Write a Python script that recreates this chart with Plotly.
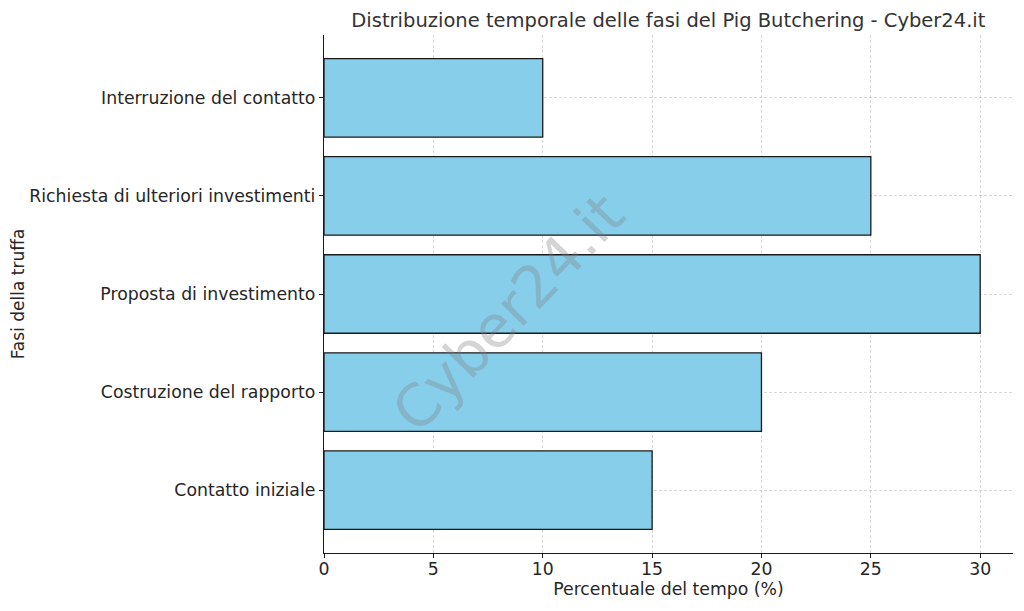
import plotly.graph_objects as go

categories = ["Contatto iniziale", "Costruzione del rapporto", "Proposta di investimento",
              "Richiesta di ulteriori investimenti", "Interruzione del contatto"]
values = [15, 20, 30, 25, 10]
x_ticks = [0, 5, 10, 15, 20, 25, 30]

FONT = "DejaVu Sans"
GRID = "rgba(190,190,190,0.6)"
fig = go.Figure()
fig.add_trace(go.Bar(
    y=categories, x=values, orientation="h", width=0.8,
    marker=dict(color="#87CEEB", line=dict(color="#1a1a1a", width=1.3)),
))
fig.update_layout(
    width=1016, height=603,
    margin=dict(l=316, r=11, t=27, b=58, autoexpand=False),
    plot_bgcolor="white", paper_bgcolor="white",
    showlegend=False,
    font=dict(family=FONT, size=17.3, color="#262626"),
    title=dict(text="Distribuzione temporale delle fasi del Pig Butchering - Cyber24.it",
               x=0.65, xanchor="center", y=0.979, yanchor="middle",
               font=dict(size=19.5, family=FONT, color="#333333")),
    bargap=0.2,
)
fig.update_xaxes(
    range=[0, 31.5], tickvals=x_ticks, showgrid=True,
    gridcolor=GRID, griddash="3px,2px", gridwidth=1,
    showline=True, linecolor="#1a1a1a", linewidth=1.3,
    ticks="outside", ticklen=4, tickcolor="#1a1a1a",
    ticklabelstandoff=-4,
    zeroline=False, layer="above traces", automargin=False,
    title=dict(text="Percentuale del tempo (%)", standoff=2, font=dict(size=17.3)),
)
fig.update_yaxes(
    range=[-0.64, 4.64], showgrid=True,
    gridcolor=GRID, griddash="3px,2px", gridwidth=1,
    showline=True, linecolor="#1a1a1a", linewidth=1.3,
    ticks="outside", ticklen=4, tickcolor="#1a1a1a",
    zeroline=False, layer="above traces", automargin=False,
    title=dict(text="Fasi della truffa", standoff=3, font=dict(size=17)),
)
fig.add_annotation(
    text="Cyber24.it", x=0.267, y=0.464, xref="paper", yref="paper",
    xanchor="center", yanchor="middle",
    showarrow=False, textangle=-46,
    font=dict(size=58, family=FONT, color="rgba(128,128,128,0.33)"),
)
fig.write_html("out.html")
